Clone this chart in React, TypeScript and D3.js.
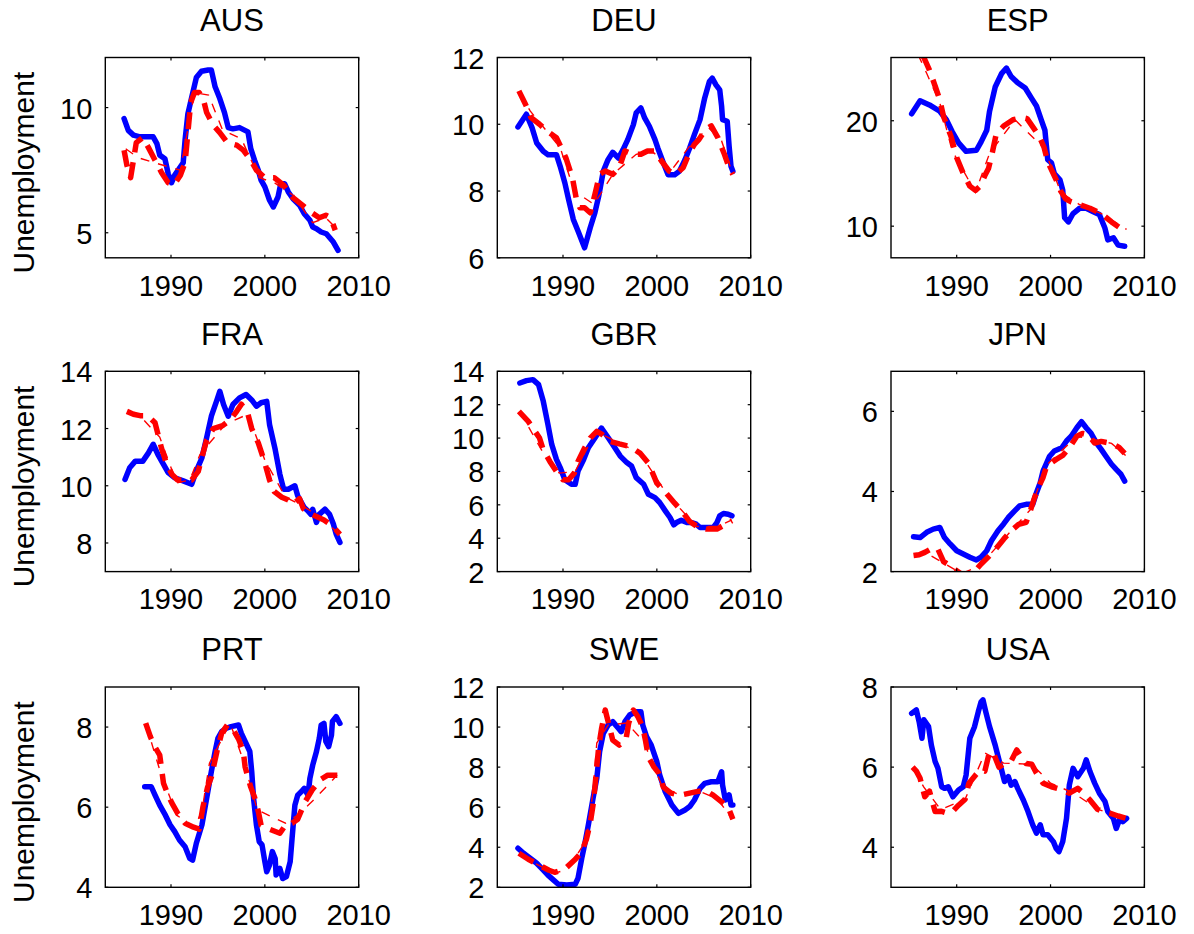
import React from "react";
import * as d3 from "d3";

type Pt = [number, number];

const COUNTRIES = ["AUS", "DEU", "ESP", "FRA", "GBR", "JPN", "PRT", "SWE", "USA"];
const Y_LABEL = "Unemployment";
const X_DOMAIN: [number, number] = [1983, 2010];
const X_TICKS = [1990, 2000, 2010];
const Y_DOMAINS: [number, number][] = [[4, 12], [6, 12], [7, 26], [7, 14], [2, 14], [2, 7], [4, 9], [2, 12], [3, 8]];
const Y_TICKS: number[][] = [[5, 10], [6, 8, 10, 12], [10, 20], [8, 10, 12, 14], [2, 4, 6, 8, 10, 12, 14], [2, 4, 6], [4, 6, 8], [2, 4, 6, 8, 10, 12], [4, 6, 8]];

// ---------- AUS ----------
const AUS_ACTUAL: Pt[] = [[1985.0,9.56],[1985.45,9.09],[1986.0,8.9],[1986.7,8.83],[1988.1,8.83],[1988.5,8.56],[1988.8,8.1],[1989.35,7.96],[1989.7,7.36],[1990.06,7.0],[1990.4,7.3],[1990.95,7.6],[1991.3,7.8],[1991.5,8.7],[1991.8,9.75],[1992.2,10.4],[1992.7,11.2],[1993.25,11.45],[1993.96,11.5],[1994.3,11.5],[1994.7,10.83],[1995.2,10.36],[1995.7,9.8],[1996.1,9.2],[1996.6,9.15],[1997.3,9.2],[1998.2,9.03],[1998.5,8.36],[1998.9,7.9],[1999.3,7.5],[1999.6,7.1],[2000.0,6.83],[2000.5,6.3],[2000.9,6.03],[2001.4,6.43],[2001.7,6.96],[2002.1,6.96],[2002.5,6.63],[2003.0,6.36],[2003.7,6.1],[2004.2,5.76],[2004.8,5.5],[2005.1,5.23],[2005.5,5.16],[2006.0,5.03],[2006.55,4.96],[2007.3,4.63],[2007.8,4.3]];
const AUS_FIT: Pt[] = [[1985.0,8.3],[1985.3,7.7],[1985.7,7.2],[1986.3,8.6],[1987.0,8.8],[1987.6,8.4],[1988.3,7.9],[1989.0,7.4],[1989.7,7.0],[1990.3,6.9],[1991.0,7.3],[1991.5,7.8],[1991.8,9.0],[1992.1,10.2],[1992.5,10.6],[1993.0,10.6],[1993.4,10.4],[1993.8,9.8],[1994.5,9.3],[1995.2,9.0],[1996.0,8.6],[1997.0,8.5],[1997.7,8.3],[1998.5,7.9],[1999.1,7.5],[2000.0,7.2],[2001.0,7.2],[2002.0,6.9],[2003.0,6.4],[2004.0,6.1],[2005.0,5.8],[2005.8,5.6],[2006.5,5.7],[2007.0,5.6],[2007.5,5.1]];
const AUS_FCST: Pt[] = [[1985.0,8.4],[1986.5,8.0],[1988.2,7.8],[1991.0,7.5],[1992.5,10.6],[1994.0,10.5],[1995.5,9.1],[1997.5,8.75],[1999.4,7.2],[2001.0,7.0],[2003.0,6.5],[2005.1,5.4],[2006.5,5.6],[2007.8,5.1]];

// ---------- DEU ----------
const DEU_ACTUAL: Pt[] = [[1985.2,9.92],[1986.1,10.3],[1986.7,9.9],[1987.2,9.44],[1987.9,9.19],[1988.4,9.09],[1989.3,9.09],[1989.7,8.74],[1990.2,8.24],[1990.6,7.74],[1991.1,7.15],[1991.6,6.8],[1992.3,6.3],[1992.9,6.9],[1993.4,7.35],[1993.8,7.84],[1994.3,8.6],[1994.8,8.94],[1995.3,9.16],[1995.9,8.99],[1996.4,9.24],[1996.9,9.54],[1997.5,9.99],[1997.8,10.34],[1998.3,10.49],[1998.7,10.19],[1999.2,9.94],[1999.8,9.54],[2000.1,9.29],[2000.7,8.84],[2001.2,8.49],[2001.9,8.49],[2002.4,8.59],[2003.0,8.94],[2003.5,9.29],[2004.0,9.69],[2004.6,10.14],[2005.1,10.79],[2005.6,11.28],[2005.9,11.38],[2006.3,11.18],[2006.7,11.03],[2006.9,10.54],[2007.0,10.14],[2007.5,10.09],[2007.7,9.34],[2007.9,8.74],[2008.1,8.59]];
const DEU_FIT: Pt[] = [[1985.3,11.0],[1986.0,10.6],[1986.6,10.2],[1987.5,10.0],[1988.3,9.8],[1989.3,9.6],[1989.8,9.3],[1990.3,9.0],[1991.0,8.4],[1991.4,7.8],[1991.8,7.5],[1992.3,7.5],[1992.9,7.35],[1993.4,7.9],[1993.9,8.5],[1994.5,8.6],[1995.3,8.5],[1996.0,8.7],[1996.6,9.2],[1997.5,9.1],[1998.3,9.1],[1999.0,9.2],[1999.7,9.2],[2000.5,8.9],[2001.3,8.6],[2002.0,8.5],[2002.8,8.7],[2003.4,9.1],[2004.0,9.4],[2004.5,9.55],[2005.2,9.85],[2005.8,9.95],[2006.5,9.6],[2007.2,9.1],[2007.7,8.7],[2008.1,8.5]];
const DEU_FCST: Pt[] = [[1985.3,11.0],[1986.5,10.4],[1989.7,9.3],[1991.2,8.0],[1993.3,7.6],[1995.3,8.5],[1997.8,9.1],[1999.5,9.2],[2001.5,8.6],[2003.5,9.35],[2005.5,9.9],[2006.9,9.5],[2008.1,8.5]];

// ---------- ESP ----------
const ESP_ACTUAL: Pt[] = [[1985.2,20.66],[1986.1,21.9],[1987.1,21.5],[1988.2,20.9],[1988.9,20.1],[1989.5,19.0],[1990.2,17.9],[1991.0,17.1],[1992.1,17.2],[1992.6,18.0],[1993.2,19.1],[1993.5,20.9],[1994.1,23.2],[1994.8,24.5],[1995.3,25.0],[1995.8,24.2],[1996.5,23.6],[1997.3,23.1],[1998.0,22.1],[1998.5,21.4],[1999.0,20.1],[1999.4,19.1],[1999.7,16.3],[2000.1,16.0],[2000.4,15.0],[2001.0,14.4],[2001.3,13.4],[2001.5,10.8],[2001.9,10.4],[2002.4,11.2],[2003.1,11.7],[2003.8,11.7],[2004.5,11.4],[2005.2,11.1],[2005.8,9.8],[2006.1,8.7],[2006.7,8.9],[2007.2,8.2],[2007.9,8.1]];
const ESP_FIT: Pt[] = [[1985.0,28.5],[1985.8,27.0],[1986.5,26.0],[1987.1,24.8],[1987.7,23.3],[1988.2,22.0],[1988.6,20.4],[1989.4,18.5],[1990.0,16.5],[1990.7,15.0],[1991.4,13.8],[1992.0,13.4],[1992.5,13.8],[1993.0,14.8],[1993.4,15.5],[1993.8,17.0],[1994.2,18.7],[1995.0,19.5],[1996.0,20.1],[1997.0,20.3],[1997.5,20.2],[1998.2,19.3],[1998.8,18.5],[1999.3,17.5],[1999.7,16.1],[2000.6,14.4],[2001.1,13.3],[2001.6,12.6],[2002.2,12.3],[2003.2,12.0],[2004.2,11.7],[2005.4,11.2],[2006.5,10.4],[2007.3,9.9],[2008.1,9.7]];
const ESP_FCST: Pt[] = [[1985.0,28.0],[1986.8,24.5],[1988.2,21.7],[1989.5,17.2],[1992.0,13.2],[1993.5,16.9],[1996.2,20.1],[1999.3,17.4],[2001.1,13.2],[2003.0,12.1],[2005.4,11.2],[2008.1,9.7]];

// ---------- FRA ----------
const FRA_ACTUAL: Pt[] = [[1985.1,10.22],[1985.6,10.63],[1986.2,10.86],[1987.0,10.86],[1987.6,11.15],[1988.1,11.45],[1988.6,11.1],[1989.2,10.75],[1989.7,10.46],[1990.4,10.28],[1991.3,10.17],[1992.2,10.05],[1992.7,10.52],[1993.3,10.98],[1993.8,11.68],[1994.3,12.43],[1994.9,13.0],[1995.2,13.3],[1995.6,12.84],[1996.1,12.43],[1996.6,12.84],[1997.3,13.07],[1998.0,13.19],[1998.6,13.0],[1999.1,12.78],[1999.6,12.9],[2000.2,12.95],[2000.5,12.14],[2001.1,11.27],[2001.6,10.4],[2002.0,9.88],[2002.5,9.88],[2003.2,10.0],[2003.5,9.65],[2003.9,9.41],[2004.2,9.24],[2004.6,9.12],[2004.9,9.0],[2005.1,9.18],[2005.5,8.72],[2005.8,9.0],[2006.4,9.18],[2006.9,9.0],[2007.3,8.66],[2007.6,8.31],[2008.0,8.02]];
const FRA_FIT: Pt[] = [[1985.3,12.6],[1986.0,12.5],[1986.7,12.45],[1987.5,12.45],[1988.3,12.2],[1989.0,11.3],[1989.5,10.8],[1990.1,10.4],[1990.7,10.2],[1991.5,10.2],[1992.2,10.2],[1992.9,10.5],[1993.3,11.0],[1993.8,11.6],[1994.5,12.0],[1995.5,12.1],[1996.3,12.3],[1997.0,12.6],[1997.5,12.85],[1998.2,12.5],[1998.6,12.0],[1999.3,11.5],[2000.0,10.8],[2000.5,10.2],[2001.0,9.8],[2001.8,9.6],[2002.5,9.5],[2003.0,9.35],[2003.7,9.55],[2004.1,9.2],[2005.0,9.0],[2006.3,8.8],[2007.2,8.6],[2008.0,8.3]];
const FRA_FCST: Pt[] = [[1985.3,12.6],[1986.8,12.4],[1988.8,11.7],[1990.6,10.1],[1992.0,10.2],[1993.1,11.1],[1995.8,12.15],[1998.2,12.5],[2000.0,10.9],[2002.2,9.6],[2004.0,9.3],[2005.5,9.0],[2008.0,8.3]];

// ---------- GBR ----------
const GBR_ACTUAL: Pt[] = [[1985.4,13.3],[1986.1,13.44],[1986.8,13.5],[1987.4,13.2],[1987.9,12.2],[1988.4,10.8],[1988.8,9.62],[1989.3,8.72],[1989.7,8.23],[1990.2,7.5],[1990.9,7.23],[1991.3,7.23],[1991.6,8.02],[1992.2,8.72],[1992.7,9.42],[1993.4,10.0],[1994.1,10.6],[1994.6,10.2],[1995.3,9.62],[1996.1,8.92],[1996.8,8.53],[1997.3,8.33],[1997.8,7.63],[1998.6,7.23],[1999.1,6.63],[1999.8,6.43],[2000.3,6.14],[2000.9,5.64],[2001.4,5.24],[2001.8,4.8],[2002.1,4.94],[2002.6,5.08],[2003.2,4.94],[2003.7,4.94],[2004.2,4.84],[2004.6,4.64],[2005.3,4.64],[2006.0,4.64],[2006.4,4.94],[2006.7,5.34],[2007.1,5.48],[2007.6,5.44],[2008.0,5.34]];
const GBR_FIT: Pt[] = [[1985.3,11.6],[1986.3,11.0],[1986.9,10.5],[1987.5,10.0],[1987.9,9.3],[1988.6,8.6],[1989.3,8.0],[1990.0,7.5],[1990.6,7.5],[1991.2,7.9],[1991.6,8.6],[1992.3,9.4],[1992.9,10.0],[1993.6,10.4],[1994.2,10.2],[1995.0,9.8],[1996.0,9.65],[1997.1,9.5],[1998.2,9.1],[1999.1,8.5],[2000.0,7.3],[2001.0,6.7],[2001.9,6.1],[2002.7,5.6],[2003.5,5.0],[2004.3,4.7],[2005.3,4.55],[2006.4,4.55],[2007.2,4.8],[2008.0,5.05]];
const GBR_FCST: Pt[] = [[1985.3,11.7],[1987.8,9.2],[1989.6,7.9],[1991.3,8.0],[1993.5,10.4],[1996.0,9.7],[1998.2,9.1],[2001.0,6.7],[2004.2,4.7],[2006.5,4.7],[2008.0,5.1]];

// ---------- JPN ----------
const JPN_ACTUAL: Pt[] = [[1985.4,2.87],[1986.1,2.85],[1986.8,2.98],[1987.5,3.06],[1988.2,3.1],[1988.7,2.85],[1989.3,2.69],[1990.0,2.52],[1990.7,2.44],[1991.4,2.36],[1992.1,2.29],[1992.6,2.36],[1993.2,2.52],[1993.7,2.77],[1994.4,3.02],[1995.0,3.19],[1995.5,3.35],[1996.2,3.52],[1996.7,3.64],[1997.4,3.68],[1998.1,3.68],[1998.5,3.97],[1998.9,4.22],[1999.2,4.51],[1999.6,4.72],[1999.9,4.88],[2000.4,5.01],[2001.2,5.09],[2001.7,5.26],[2002.2,5.38],[2002.8,5.59],[2003.3,5.74],[2003.8,5.59],[2004.3,5.46],[2004.9,5.21],[2005.4,5.05],[2005.9,4.88],[2006.5,4.68],[2007.0,4.55],[2007.5,4.43],[2007.9,4.26]];
const JPN_FIT: Pt[] = [[1985.4,2.4],[1986.0,2.42],[1986.6,2.48],[1987.5,2.6],[1988.0,2.56],[1988.6,2.25],[1989.3,2.15],[1990.0,2.02],[1990.5,1.94],[1991.2,1.9],[1991.9,2.0],[1992.6,2.19],[1993.3,2.35],[1994.0,2.52],[1995.0,2.81],[1995.8,3.02],[1996.6,3.18],[1997.4,3.23],[1997.9,3.56],[1998.3,3.85],[1998.8,4.15],[1999.2,4.35],[1999.6,4.64],[2000.6,4.8],[2001.3,4.9],[2002.0,5.09],[2002.8,5.38],[2003.4,5.45],[2004.0,5.42],[2004.7,5.21],[2005.4,5.25],[2006.5,5.2],[2007.3,5.1],[2007.9,4.95]];
const JPN_FCST: Pt[] = [[1985.4,2.4],[1986.5,2.5],[1988.5,2.23],[1990.5,1.95],[1992.5,2.15],[1995.0,2.81],[1997.9,3.56],[1999.5,4.64],[2002.8,5.38],[2004.5,5.3],[2006.5,5.2],[2008.0,4.9]];

// ---------- PRT ----------
const PRT_ACTUAL: Pt[] = [[1987.2,6.51],[1987.9,6.51],[1988.3,6.3],[1988.8,6.05],[1989.4,5.8],[1989.9,5.56],[1990.4,5.39],[1990.9,5.18],[1991.5,5.01],[1992.0,4.72],[1992.3,4.68],[1992.7,5.1],[1993.3,5.56],[1993.8,6.22],[1994.3,6.89],[1994.7,7.39],[1995.0,7.72],[1995.4,7.89],[1995.9,7.97],[1996.4,8.01],[1997.2,8.05],[1997.5,7.84],[1998.0,7.59],[1998.4,7.39],[1998.6,6.89],[1998.8,6.22],[1999.1,5.56],[1999.4,5.14],[1999.7,5.06],[2000.0,4.64],[2000.2,4.39],[2000.5,4.56],[2000.8,4.89],[2001.1,4.72],[2001.2,4.31],[2001.6,4.47],[2001.9,4.22],[2002.3,4.27],[2002.7,4.64],[2002.9,5.22],[2003.2,6.05],[2003.5,6.3],[2003.9,6.39],[2004.2,6.47],[2004.6,6.3],[2004.8,6.72],[2005.1,7.05],[2005.5,7.39],[2005.8,7.72],[2006.0,8.05],[2006.3,8.09],[2006.5,7.64],[2006.8,7.51],[2007.1,7.8],[2007.2,8.14],[2007.6,8.26],[2008.0,8.09]];
const PRT_FIT: Pt[] = [[1987.3,8.1],[1987.8,7.76],[1988.3,7.5],[1988.8,7.3],[1989.2,6.6],[1989.7,6.3],[1990.1,6.1],[1990.7,5.85],[1991.5,5.6],[1992.4,5.5],[1993.0,5.45],[1993.4,6.0],[1993.9,6.5],[1994.3,6.75],[1994.9,7.4],[1995.4,7.85],[1996.0,8.05],[1996.6,7.95],[1997.2,7.7],[1997.7,7.4],[1997.9,7.0],[1998.5,6.5],[1998.9,6.25],[1999.3,5.9],[1999.6,5.55],[2000.5,5.45],[2001.6,5.35],[2002.2,5.55],[2002.9,5.6],[2003.5,5.7],[2004.3,6.14],[2005.1,6.45],[2006.0,6.7],[2006.7,6.8],[2007.4,6.8],[2008.0,6.8]];
const PRT_FCST: Pt[] = [[1987.3,8.1],[1988.8,6.93],[1990.6,5.8],[1992.5,5.5],[1993.3,5.9],[1994.1,7.1],[1996.3,8.1],[1997.8,7.1],[1999.2,5.93],[2002.2,5.6],[2003.5,5.8],[2005.2,6.18],[2006.5,6.5],[2007.7,6.8]];

// ---------- SWE ----------
const SWE_ACTUAL: Pt[] = [[1985.2,3.95],[1985.8,3.7],[1986.5,3.45],[1987.2,3.2],[1987.9,2.86],[1988.4,2.61],[1989.0,2.36],[1989.5,2.15],[1990.4,2.11],[1991.3,2.15],[1991.6,2.45],[1992.0,3.45],[1992.3,4.11],[1992.7,5.11],[1993.2,6.44],[1993.6,7.44],[1993.9,8.77],[1994.3,9.69],[1994.8,10.1],[1995.3,10.27],[1995.9,9.94],[1996.2,9.77],[1996.6,10.27],[1997.1,10.6],[1997.8,10.77],[1998.3,10.77],[1998.5,10.1],[1998.9,9.52],[1999.4,9.1],[2000.0,8.27],[2000.3,7.61],[2000.9,6.77],[2001.6,6.11],[2002.3,5.69],[2003.0,5.86],[2003.5,6.03],[2004.0,6.36],[2004.6,6.94],[2005.1,7.19],[2005.8,7.27],[2006.5,7.27],[2006.9,7.77],[2007.0,7.11],[2007.3,6.36],[2007.7,6.61],[2007.9,6.11],[2008.1,6.11]];
const SWE_FIT: Pt[] = [[1985.3,3.7],[1985.8,3.55],[1986.3,3.4],[1987.1,3.2],[1987.9,3.0],[1988.5,2.85],[1989.1,2.75],[1989.8,2.85],[1990.4,3.0],[1991.2,3.35],[1991.9,3.7],[1992.5,4.4],[1992.9,5.2],[1993.2,6.1],[1993.4,7.0],[1993.6,8.0],[1993.8,9.0],[1994.1,9.9],[1994.5,10.85],[1994.9,10.1],[1995.3,9.35],[1996.0,9.1],[1996.7,9.35],[1997.0,10.2],[1997.5,10.85],[1998.0,10.5],[1998.5,10.0],[1998.8,9.3],[1999.1,8.5],[1999.7,8.0],[2000.2,7.7],[2000.7,7.0],[2001.5,6.7],[2002.5,6.6],[2003.5,6.7],[2004.5,6.8],[2005.3,6.8],[2006.0,6.6],[2006.8,6.3],[2007.6,6.0],[2008.1,5.4]];
const SWE_FCST: Pt[] = [[1985.3,3.7],[1987.0,3.2],[1989.1,2.7],[1990.5,2.9],[1992.5,4.36],[1993.2,6.8],[1993.6,9.2],[1994.8,10.1],[1996.8,10.2],[1998.6,9.27],[2000.6,7.0],[2002.5,6.6],[2004.5,6.8],[2006.5,6.4],[2008.0,5.4]];

// ---------- USA ----------
const USA_ACTUAL: Pt[] = [[1985.2,7.34],[1985.7,7.43],[1986.0,7.13],[1986.3,6.72],[1986.5,7.18],[1987.0,7.01],[1987.3,6.55],[1987.7,6.14],[1988.0,5.97],[1988.4,5.51],[1988.7,5.47],[1989.1,5.51],[1989.6,5.26],[1990.2,5.43],[1990.7,5.51],[1991.0,5.8],[1991.4,6.72],[1991.9,7.01],[1992.3,7.38],[1992.6,7.63],[1992.8,7.68],[1993.1,7.38],[1993.5,7.01],[1994.1,6.55],[1994.6,6.09],[1995.1,5.64],[1995.5,5.76],[1995.8,5.55],[1996.2,5.64],[1996.5,5.47],[1997.1,5.18],[1997.6,4.89],[1998.1,4.56],[1998.5,4.35],[1998.9,4.56],[1999.2,4.31],[1999.7,4.31],[2000.3,4.14],[2000.6,3.97],[2000.9,3.89],[2001.3,4.14],[2001.7,4.72],[2002.0,5.55],[2002.4,5.97],[2002.9,5.76],[2003.5,5.97],[2003.8,6.18],[2004.2,5.89],[2004.7,5.6],[2005.2,5.35],[2005.8,5.14],[2006.1,4.89],[2006.7,4.72],[2007.0,4.47],[2007.4,4.72],[2007.7,4.64],[2008.1,4.72]];
const USA_FIT: Pt[] = [[1985.3,6.0],[1985.7,5.9],[1986.1,5.72],[1986.6,5.26],[1987.1,5.4],[1987.7,4.89],[1988.3,4.9],[1989.0,4.85],[1989.6,4.9],[1990.2,5.05],[1990.9,5.2],[1991.3,5.6],[1992.0,5.8],[1992.5,5.93],[1993.0,5.9],[1993.5,6.39],[1994.0,6.3],[1994.5,6.0],[1995.2,6.1],[1995.8,6.15],[1996.4,6.43],[1996.9,6.25],[1997.4,6.09],[1998.0,6.07],[1998.5,5.85],[1999.2,5.6],[2000.1,5.51],[2001.0,5.45],[2002.0,5.35],[2002.9,5.47],[2003.5,5.35],[2004.2,5.18],[2005.0,4.95],[2005.7,4.88],[2006.3,4.85],[2007.2,4.78],[2008.1,4.72]];
const USA_FCST: Pt[] = [[1985.3,6.0],[1986.5,5.5],[1988.3,4.94],[1990.9,5.2],[1993.0,6.35],[1995.0,6.1],[1998.0,6.07],[2000.0,5.6],[2002.5,5.35],[2005.0,4.95],[2008.1,4.7]];

const ACTUAL = [AUS_ACTUAL, DEU_ACTUAL, ESP_ACTUAL, FRA_ACTUAL, GBR_ACTUAL, JPN_ACTUAL, PRT_ACTUAL, SWE_ACTUAL, USA_ACTUAL];
const FIT = [AUS_FIT, DEU_FIT, ESP_FIT, FRA_FIT, GBR_FIT, JPN_FIT, PRT_FIT, SWE_FIT, USA_FIT];
const FCST = [AUS_FCST, DEU_FCST, ESP_FCST, FRA_FCST, GBR_FCST, JPN_FCST, PRT_FCST, SWE_FCST, USA_FCST];

// ---------- layout ----------
const COL_X = [105.3, 497.3, 891];
const ROW_Y = [57.5, 371.3, 687];
const PW = 253.4;
const PH = 200.3;
const FONT = "'Liberation Sans', Arial, Helvetica, sans-serif";

function Panel({ i }: { i: number }) {
  const col = i % 3;
  const row = Math.floor(i / 3);
  const x0 = COL_X[col];
  const y0 = ROW_Y[row];
  const x = d3.scaleLinear().domain(X_DOMAIN).range([0, PW]);
  const y = d3.scaleLinear().domain(Y_DOMAINS[i]).range([PH, 0]);
  const line = d3.line<Pt>().x((d) => x(d[0])).y((d) => y(d[1]));
  const clipId = `clip-${i}`;
  const tl = 3;
  return (
    <g transform={`translate(${x0},${y0})`}>
      <defs>
        <clipPath id={clipId}>
          <rect x={0} y={0} width={PW} height={PH} />
        </clipPath>
      </defs>
      <g clipPath={`url(#${clipId})`}>
        <path d={line(ACTUAL[i]) || ""} fill="none" stroke="#0000ff" strokeWidth={5.5} strokeLinejoin="round" strokeLinecap="round" />
        <path d={line(FIT[i]) || ""} fill="none" stroke="#ff0000" strokeWidth={5.5} strokeDasharray="17,10" strokeLinejoin="round" />
        <path d={line(FCST[i]) || ""} fill="none" stroke="#ff0000" strokeWidth={1.4} strokeDasharray="9,9" strokeDashoffset={-20} />
      </g>
      <rect x={0} y={0} width={PW} height={PH} fill="none" stroke="#000" strokeWidth={1.4} />
      {X_TICKS.map((t) => (
        <g key={`xt${t}`}>
          <line x1={x(t)} x2={x(t)} y1={PH} y2={PH - tl} stroke="#000" strokeWidth={1.2} />
          <line x1={x(t)} x2={x(t)} y1={0} y2={tl} stroke="#000" strokeWidth={1.2} />
          <text x={x(t)} y={PH + 37.7} textAnchor="middle" fontSize={29} fontFamily={FONT} fill="#000">{t}</text>
        </g>
      ))}
      {Y_TICKS[i].map((t) => (
        <g key={`yt${t}`}>
          <line x1={0} x2={tl} y1={y(t)} y2={y(t)} stroke="#000" strokeWidth={1.2} />
          <line x1={PW} x2={PW - tl} y1={y(t)} y2={y(t)} stroke="#000" strokeWidth={1.2} />
          <text x={-13} y={y(t) + 11} textAnchor="end" fontSize={29} fontFamily={FONT} fill="#000">{t}</text>
        </g>
      ))}
      <text x={PW / 2} y={-26.8} textAnchor="middle" fontSize={31} fontFamily={FONT} fill="#000">{COUNTRIES[i]}</text>
      {col === 0 && (
        <text transform={`translate(${33.5 - x0},${PH / 2 + 15}) rotate(-90)`} textAnchor="middle" fontSize={30} fontFamily={FONT} fill="#000">{Y_LABEL}</text>
      )}
    </g>
  );
}

export default function App() {
  return (
    <svg width={1194} height={934} style={{ position: "absolute", left: 0, top: 0, background: "#fff" }}>
      <rect x={0} y={0} width={1194} height={934} fill="#fff" />
      {COUNTRIES.map((c, i) => (
        <Panel key={c} i={i} />
      ))}
    </svg>
  );
}
